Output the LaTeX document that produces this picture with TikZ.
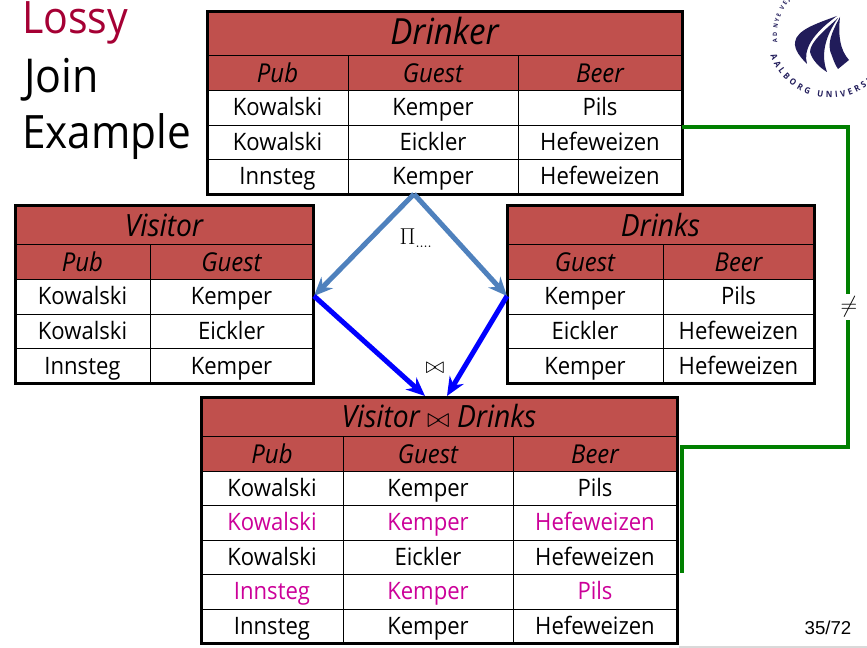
\documentclass[tikz,border=0pt]{standalone}
\usepackage{fontspec}
\usepackage{amsmath,amssymb}
\setmainfont[FakeStretch=0.92]{Open Sans}
\newfontfamily\numfont{Liberation Sans}
\usetikzlibrary{positioning,fit,arrows.meta,backgrounds,decorations.text}
\newlength{\px}
\setlength{\px}{0.75pt}
\definecolor{hdred}{RGB}{192,80,77}
\definecolor{lossred}{RGB}{165,0,52}
\definecolor{spurious}{RGB}{204,0,153}
\definecolor{projblue}{RGB}{79,129,189}
\definecolor{aaunavy}{RGB}{33,28,90}
\definecolor{neqgreen}{RGB}{0,128,0}

\begin{document}
\begin{tikzpicture}[
        x=0.75pt, y=-0.75pt,
        every node/.style={outer sep=0pt, inner sep=0pt},
        node distance=0pt and 0pt,
        w/.style={minimum width=#1\px},
        ttl/.style={draw=black, fill=hdred, line width=1\px, minimum height=39\px,
                    text height=29\px, text depth=7\px,
                    font=\fontsize{23}{25}\selectfont\itshape},
        hd/.style={draw=black, fill=hdred, line width=1\px, minimum height=35\px,
                   text height=24\px, text depth=5\px,
                   font=\fontsize{19.5}{21}\selectfont\itshape},
        cell/.style={draw=black, fill=white, line width=1\px, minimum height=34.5\px,
                     text height=21.5\px, text depth=6\px,
                     font=\fontsize{18}{20}\selectfont},
        bad/.style={cell, text=spurious},
        tbl/.style={draw=black, line width=3\px, fit=#1},
        big/.style={anchor=base west, font=\fontsize{35}{37}\selectfont},
        proj/.style={-{Stealth[length=14pt, width=12pt]}, projblue, line width=5\px},
        jn/.style={-{Stealth[length=14pt, width=12pt]}, blue, line width=5\px},
        neq/.style={neqgreen, line width=3.5\px}
    ]
    \useasboundingbox (0,0) rectangle (867,648);

    % ---- Title ----
    \node[big, text=lossred, font=\fontsize{33.5}{36}\selectfont] (lossy) at (22,34) {Lossy};
    \node[big] (joinw) at (24,93) {Join};
    \node[big, font=\fontsize{34.5}{36}\selectfont] (example) at (22,149) {Example};

    % ---- Drinker ----
    \node[ttl, w=475, anchor=north west, minimum height=44\px,
          font=\fontsize{27}{29}\selectfont\itshape] (drttl) at (207,12) {Drinker};
    \node[hd, w=141, anchor=north west] (drpub) at (drttl.south west) {Pub};
    \node[hd, w=170, right=of drpub] (drguest) {Guest};
    \node[hd, w=164, right=of drguest] (drbeer) {Beer};
    \node[cell, w=141, below=of drpub] (dra1) {Kowalski};
    \node[cell, w=170, right=of dra1] (dra2) {Kemper};
    \node[cell, w=164, right=of dra2] (dra3) {Pils};
    \node[cell, w=141, below=of dra1] (drb1) {Kowalski};
    \node[cell, w=170, right=of drb1] (drb2) {Eickler};
    \node[cell, w=164, right=of drb2] (drb3) {Hefeweizen};
    \node[cell, w=141, below=of drb1] (drc1) {Innsteg};
    \node[cell, w=170, right=of drc1] (drc2) {Kemper};
    \node[cell, w=164, right=of drc2] (drc3) {Hefeweizen};
    \node[tbl={(drttl)(drc1)(drc3)}] (drinker) {};

    % ---- Visitor ----
    \node[ttl, w=298, anchor=north west] (vittl) at (15,206) {Visitor};
    \node[hd, w=135, anchor=north west] (vipub) at (vittl.south west) {Pub};
    \node[hd, w=163, right=of vipub] (viguest) {Guest};
    \node[cell, w=135, below=of vipub] (via1) {Kowalski};
    \node[cell, w=163, right=of via1] (via2) {Kemper};
    \node[cell, w=135, below=of via1] (vib1) {Kowalski};
    \node[cell, w=163, right=of vib1] (vib2) {Eickler};
    \node[cell, w=135, below=of vib1] (vic1) {Innsteg};
    \node[cell, w=163, right=of vic1] (vic2) {Kemper};
    \node[tbl={(vittl)(vic1)(vic2)}] (visitor) {};

    % ---- Drinks ----
    \node[ttl, w=307, anchor=north west] (dkttl) at (507,206) {Drinks};
    \node[hd, w=156, anchor=north west] (dkguest) at (dkttl.south west) {Guest};
    \node[hd, w=151, right=of dkguest] (dkbeer) {Beer};
    \node[cell, w=156, below=of dkguest] (dka1) {Kemper};
    \node[cell, w=151, right=of dka1] (dka2) {Pils};
    \node[cell, w=156, below=of dka1] (dkb1) {Eickler};
    \node[cell, w=151, right=of dkb1] (dkb2) {Hefeweizen};
    \node[cell, w=156, below=of dkb1] (dkc1) {Kemper};
    \node[cell, w=151, right=of dkc1] (dkc2) {Hefeweizen};
    \node[tbl={(dkttl)(dkc1)(dkc2)}] (drinks) {};

    % ---- Visitor join Drinks ----
    \node[ttl, w=476, anchor=north west] (vdttl) at (201,397) {Visitor {\fontsize{21}{23}\selectfont$\bowtie$} Drinks};
    \node[hd, w=142, anchor=north west] (vdpub) at (vdttl.south west) {Pub};
    \node[hd, w=170, right=of vdpub] (vdguest) {Guest};
    \node[hd, w=164, right=of vdguest] (vdbeer) {Beer};
    \node[cell, w=142, below=of vdpub] (vda1) {Kowalski};
    \node[cell, w=170, right=of vda1] (vda2) {Kemper};
    \node[cell, w=164, right=of vda2] (vda3) {Pils};
    \node[bad, w=142, below=of vda1] (vdb1) {Kowalski};
    \node[bad, w=170, right=of vdb1] (vdb2) {Kemper};
    \node[bad, w=164, right=of vdb2] (vdb3) {Hefeweizen};
    \node[cell, w=142, below=of vdb1] (vdc1) {Kowalski};
    \node[cell, w=170, right=of vdc1] (vdc2) {Eickler};
    \node[cell, w=164, right=of vdc2] (vdc3) {Hefeweizen};
    \node[bad, w=142, below=of vdc1] (vdd1) {Innsteg};
    \node[bad, w=170, right=of vdd1] (vdd2) {Kemper};
    \node[bad, w=164, right=of vdd2] (vdd3) {Pils};
    \node[cell, w=142, below=of vdd1] (vde1) {Innsteg};
    \node[cell, w=170, right=of vde1] (vde2) {Kemper};
    \node[cell, w=164, right=of vde2] (vde3) {Hefeweizen};
    \node[tbl={(vdttl)(vde1)(vde3)}] (vjoind) {};

    % ---- Arrows ----
    \coordinate (apex) at (414,194);
    \coordinate (vdl) at (425,396);
    \coordinate (vdr) at (447,396);
    \coordinate (vicorner) at (314,296);
    \coordinate (dkcorner) at (507,296);
    \draw[proj] (apex) -- (vicorner);
    \draw[proj] (apex) -- (dkcorner);
    \draw[jn] (vicorner) -- (vdl);
    \draw[jn] (dkcorner) -- (vdr);
    \node[font=\fontsize{16}{18}\selectfont] (pilabel) at (416,238) {$\Pi_{....}$};
    \node[font=\fontsize{17}{19}\selectfont] (joinlabel) at (435,368) {$\bowtie$};

    % ---- Not equal ----
    \coordinate (nea) at (682,127);
    \coordinate (neb) at (848,127);
    \coordinate (nec) at (848,447);
    \coordinate (ned) at (682,447);
    \coordinate (nee) at (682,573);
    \draw[neq] (nea) -- (neb) -- (nec) -- (ned) -- (nee);
    \node[fill=white, minimum width=18\px, minimum height=26\px,
          font=\fontsize{16}{18}\selectfont] (neqlabel) at (849,307) {$\neq$};

    % ---- Logo ----
    \begin{scope}[shift={(830,35)}, x=0.75pt, y=0.75pt]
        \path[decorate, decoration={text along path, text align=fit to path,
              text format delimiters={|}{|},
              text={|\fontsize{6.5}{7}\selectfont\bfseries\color{aaunavy}|AALBORG UNIVERSITET}}]
            (199:63) arc[start angle=199, end angle=332, radius=63];
        \path[decorate, decoration={text along path, text align=fit to path,
              text format delimiters={|}{|},
              text={|\fontsize{4.5}{5}\selectfont\bfseries\color{aaunavy}|AD NYE VEJE}}]
            (188:53) arc[start angle=188, end angle=134, radius=53];
    \end{scope}
    \begin{scope}[y=-0.75pt]
        \fill[aaunavy] (837,16) .. controls (815,24) and (797,30) .. (795,42)
            .. controls (794,50) and (801,58) .. (807,64)
            .. controls (803,50) and (812,34) .. (837,16) -- cycle;
        \fill[aaunavy] (838,18) .. controls (825,30) and (810,42) .. (810,52)
            .. controls (812,60) and (820,68) .. (827,72)
            .. controls (821,56) and (824,38) .. (838,18) -- cycle;
        \fill[aaunavy] (840,17) .. controls (832,32) and (826,44) .. (832,56)
            .. controls (834,62) and (836,66) .. (838,69) -- (849,60)
            .. controls (840,50) and (838,36) .. (840,17) -- cycle;
    \end{scope}

    % ---- Page number ----
    \node[font=\fontsize{14}{16}\selectfont\numfont] (pagenum) at (828,628) {35/72};
    \coordinate (rulea) at (679,647);
    \coordinate (ruleb) at (867,647);
    \draw[black!15, line width=2\px] (rulea) -- (ruleb);
\end{tikzpicture}
\end{document}
